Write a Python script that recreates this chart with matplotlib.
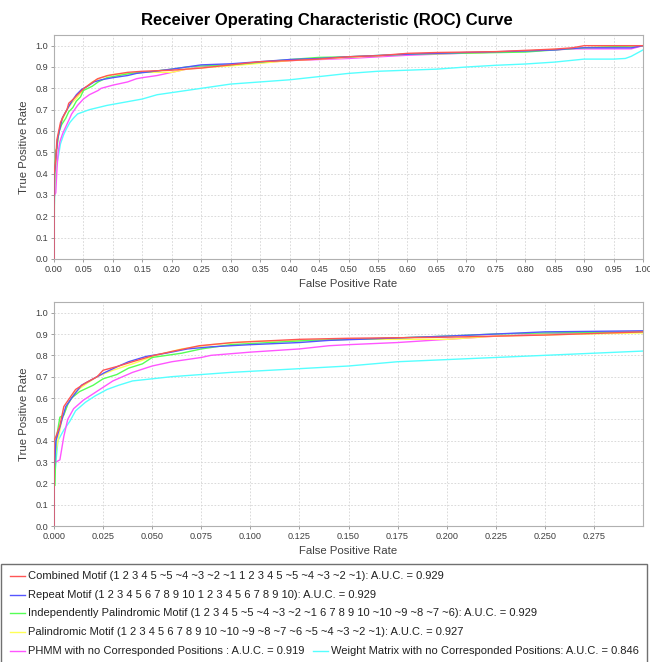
import matplotlib
matplotlib.use('Agg')
import matplotlib.pyplot as plt
from matplotlib.lines import Line2D
from matplotlib.patches import Rectangle
import numpy as np

plt.rcParams['font.family'] = ['Liberation Sans', 'DejaVu Sans']

title = 'Receiver Operating Characteristic (ROC) Curve'

# series (false positive rate, true positive rate)
combined_fpr = [0, 0, 0.001, 0.003, 0.005, 0.008, 0.011, 0.016, 0.022, 0.025, 0.033, 0.040, 0.051, 0.061, 0.074, 0.091,
                0.125, 0.15, 0.2, 0.25, 0.3, 0.35, 0.4, 0.45, 0.5, 0.55, 0.6, 0.65, 0.7, 0.75, 0.8, 0.85, 0.88, 0.9, 1.0]
combined_tpr = [0, 0.40, 0.42, 0.47, 0.56, 0.60, 0.64, 0.67, 0.70, 0.73, 0.75, 0.77, 0.80, 0.82, 0.845, 0.86,
                0.875, 0.88, 0.885, 0.895, 0.91, 0.925, 0.93, 0.937, 0.948, 0.953, 0.964, 0.968, 0.97, 0.972, 0.978, 0.984, 0.99, 1.0, 1.0]

repeat_fpr = [0, 0, 0.001, 0.006, 0.009, 0.014, 0.020, 0.026, 0.033, 0.038, 0.047, 0.057, 0.068, 0.08, 0.1, 0.125,
              0.14, 0.17, 0.2, 0.225, 0.25, 0.3, 0.35, 0.4, 0.45, 0.5, 0.6, 0.7, 0.8, 0.85, 0.87, 0.9, 0.98, 1.0]
repeat_tpr = [0, 0.25, 0.40, 0.56, 0.60, 0.66, 0.69, 0.72, 0.75, 0.77, 0.795, 0.81, 0.83, 0.84, 0.85, 0.86,
              0.87, 0.88, 0.89, 0.90, 0.91, 0.915, 0.925, 0.935, 0.94, 0.948, 0.96, 0.968, 0.975, 0.98, 0.985, 0.99, 0.99, 1.0]

indep_fpr = [0, 0, 0.0005, 0.001, 0.003, 0.005, 0.007, 0.009, 0.013, 0.02, 0.025, 0.032, 0.038, 0.045, 0.05, 0.065,
             0.075, 0.09, 0.11, 0.13, 0.17, 0.2, 0.225, 0.25, 0.3, 0.4, 0.45, 0.5, 0.6, 0.7, 0.8, 0.85, 0.9, 1.0]
indep_tpr = [0, 0.19, 0.19, 0.40, 0.51, 0.52, 0.57, 0.60, 0.63, 0.66, 0.69, 0.71, 0.74, 0.76, 0.79, 0.81,
             0.83, 0.85, 0.86, 0.87, 0.88, 0.89, 0.90, 0.905, 0.91, 0.935, 0.945, 0.948, 0.96, 0.965, 0.97, 0.98, 0.99, 1.0]

palin_fpr = [0, 0, 0.001, 0.004, 0.007, 0.011, 0.017, 0.022, 0.03, 0.04, 0.052, 0.065, 0.08, 0.1, 0.13, 0.15,
             0.2, 0.225, 0.27, 0.3, 0.4, 0.5, 0.6, 0.7, 0.8, 0.9, 1.0]
palin_tpr = [0, 0.30, 0.35, 0.50, 0.57, 0.63, 0.67, 0.70, 0.73, 0.76, 0.80, 0.83, 0.85, 0.865, 0.87, 0.875,
             0.875, 0.89, 0.90, 0.905, 0.93, 0.945, 0.96, 0.965, 0.975, 0.99, 1.0]

phmm_fpr = [0, 0, 0.001, 0.003, 0.005, 0.007, 0.01, 0.015, 0.02, 0.025, 0.03, 0.04, 0.05, 0.06, 0.075, 0.08,
            0.1, 0.125, 0.14, 0.15, 0.175, 0.2, 0.225, 0.25, 0.3, 0.35, 0.4, 0.45, 0.5, 0.6, 0.65, 0.7, 0.75, 0.8, 0.85,
            0.88, 0.98, 1.0]
phmm_tpr = [0, 0.28, 0.30, 0.31, 0.42, 0.50, 0.55, 0.59, 0.62, 0.65, 0.68, 0.72, 0.75, 0.77, 0.79, 0.80,
            0.815, 0.83, 0.845, 0.85, 0.86, 0.875, 0.89, 0.90, 0.91, 0.92, 0.93, 0.935, 0.94, 0.955, 0.96, 0.965, 0.97, 0.975, 0.98,
            0.985, 0.985, 1.0]

wm_fpr = [0, 0, 0.002, 0.005, 0.008, 0.011, 0.016, 0.021, 0.027, 0.033, 0.04, 0.05, 0.06, 0.075, 0.09, 0.11,
          0.13, 0.15, 0.175, 0.2, 0.225, 0.25, 0.3, 0.35, 0.4, 0.45, 0.5, 0.55, 0.6, 0.65, 0.7, 0.75, 0.8, 0.85,
          0.9, 0.95, 0.97, 0.98, 1.0]
wm_tpr = [0, 0.20, 0.40, 0.45, 0.49, 0.54, 0.58, 0.61, 0.64, 0.66, 0.68, 0.69, 0.70, 0.71, 0.72, 0.73,
          0.74, 0.75, 0.77, 0.78, 0.79, 0.80, 0.82, 0.83, 0.84, 0.855, 0.87, 0.88, 0.885, 0.89, 0.90, 0.908, 0.914, 0.923,
          0.937, 0.937, 0.94, 0.95, 0.98]

labels = ['Combined Motif (1 2 3 4 5 ~5 ~4 ~3 ~2 ~1 1 2 3 4 5 ~5 ~4 ~3 ~2 ~1): A.U.C. = 0.929',
          'Repeat Motif (1 2 3 4 5 6 7 8 9 10 1 2 3 4 5 6 7 8 9 10): A.U.C. = 0.929',
          'Independently Palindromic Motif (1 2 3 4 5 ~5 ~4 ~3 ~2 ~1 6 7 8 9 10 ~10 ~9 ~8 ~7 ~6): A.U.C. = 0.929',
          'Palindromic Motif (1 2 3 4 5 6 7 8 9 10 ~10 ~9 ~8 ~7 ~6 ~5 ~4 ~3 ~2 ~1): A.U.C. = 0.927',
          'PHMM with no Corresponded Positions : A.U.C. = 0.919',
          'Weight Matrix with no Corresponded Positions: A.U.C. = 0.846']
colors = ['#ff5555', '#5555ff', '#55ff55', '#ffff55', '#ff55ff', '#55ffff']
series = [(combined_fpr, combined_tpr), (repeat_fpr, repeat_tpr), (indep_fpr, indep_tpr),
          (palin_fpr, palin_tpr), (phmm_fpr, phmm_tpr), (wm_fpr, wm_tpr)]

top_xticks = np.arange(0, 1.0001, 0.05)
bottom_xticks = np.arange(0, 0.2751, 0.025)
yticks = np.arange(0, 1.0001, 0.1)

W, H = 650, 662
fig = plt.figure(figsize=(W / 100, H / 100), dpi=100)

def px_rect(left, top, right, bottom):
	return [left / W, 1 - bottom / H, (right - left) / W, (bottom - top) / H]

ax_top = fig.add_axes(px_rect(54, 35, 643, 259))
ax_bot = fig.add_axes(px_rect(54, 302, 643, 526))

for ax, xlim, xticks, fmt, plot_bottom, xlab_y in [(ax_top, (0, 1.0), top_xticks, '%.2f', 259, 284),
                                                   (ax_bot, (0, 0.3), bottom_xticks, '%.3f', 526, 551)]:
	n = len(series)
	for i, ((fx, ty), c) in enumerate(zip(series, colors)):
		ax.plot(fx, ty, color=c, lw=1.0, zorder=10 + n - i, clip_on=True)
	ax.set_xlim(*xlim)
	ax.set_ylim(0, 1.05)
	ax.set_xticks(xticks)
	ax.set_xticklabels([fmt % v for v in xticks])
	ax.set_yticks(yticks)
	ax.set_yticklabels(['%.1f' % v for v in yticks])
	ax.grid(color='#d4d4d4', linestyle=(0, (2, 2)), linewidth=0.6)
	ax.set_axisbelow(True)
	for s in ax.spines.values():
		s.set_color('#b0b0b0')
		s.set_linewidth(0.8)
	ax.tick_params(direction='out', length=2, width=0.6, color='#909090', labelsize=6.6,
				   labelcolor='#404040', pad=2)
	ax.set_xlabel('False Positive Rate', fontsize=8.2, color='#404040')
	ax.set_ylabel('True Positive Rate', fontsize=8.2, color='#404040')
	ax.xaxis.set_label_coords(0.5, (plot_bottom - xlab_y) / 224)
	ax.xaxis.label.set_va('center')
	ax.yaxis.set_label_coords((24 - 54) / 589, 0.5)
	ax.yaxis.label.set_va('center')

fig.text(327 / W, 1 - 21 / H, title, ha='center', va='center', fontsize=12, fontweight='bold')

# legend box drawn by hand (last row holds two entries)
fig.patches.append(Rectangle((1 / W, -0.01), 646 / W, 1.01 - 564 / H, transform=fig.transFigure,
							 fill=False, edgecolor='#707070', lw=1.0))
row_y = [576, 595, 613, 632, 651, 651]
renderer = fig.canvas.get_renderer()
x0 = 10
for i, (lab, c) in enumerate(zip(labels, colors)):
	if i == 5:
		ext = prev.get_window_extent(renderer)
		x0 = ext.x1 + 9
	y = 1 - row_y[i] / H
	fig.lines.append(Line2D([x0 / W, (x0 + 15) / W], [y, y], transform=fig.transFigure, color=c, lw=1.0))
	prev = fig.text((x0 + 18) / W, y, lab, ha='left', va='center', fontsize=8.05, color='#202020')

fig.savefig('out.png', dpi=100)
